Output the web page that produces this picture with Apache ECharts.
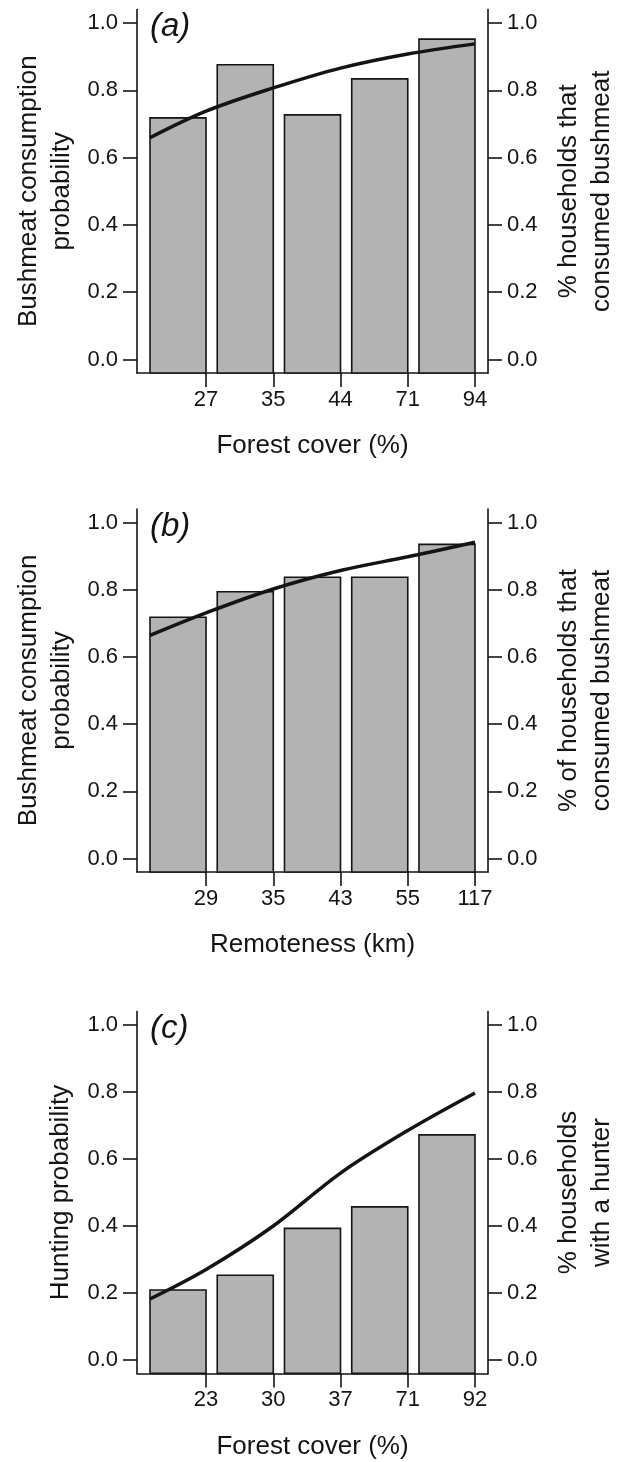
<!DOCTYPE html>
<html><head><meta charset="utf-8">
<script src="https://cdn.jsdelivr.net/npm/echarts@6/dist/echarts.min.js"></script>
<style>html,body{margin:0;padding:0;background:#fff}#c{width:617px;height:1462px}</style>
</head><body><div id="c"></div>
<script>
// ---------- data ----------
const tickLabelsA = ['27', '35', '44', '71', '94'];
const barsA = [0.718, 0.876, 0.727, 0.834, 0.952];
const curveA = [0.659, 0.738, 0.807, 0.866, 0.908, 0.938];

const tickLabelsB = ['29', '35', '43', '55', '117'];
const barsB = [0.718, 0.794, 0.837, 0.837, 0.935];
const curveB = [0.664, 0.731, 0.802, 0.857, 0.898, 0.941];

const tickLabelsC = ['23', '30', '37', '71', '92'];
const barsC = [0.209, 0.253, 0.393, 0.457, 0.672];
const curveC = [0.182, 0.270, 0.400, 0.558, 0.685, 0.797];

// curve sample positions, in bar units (first bar's left edge, then each bar's right edge)
const curveX = [0.2, 1.2, 2.4, 3.6, 4.8, 6.0];
const yTicks = [0, 0.2, 0.4, 0.6, 0.8, 1.0];

const xTitles = ['Forest cover (%)', 'Remoteness (km)', 'Forest cover (%)'];
const leftTitles = [['Bushmeat consumption', 'probability'], ['Bushmeat consumption', 'probability'], ['Hunting probability']];
const rightTitles = [['% households that', 'consumed bushmeat'], ['% of households that', 'consumed bushmeat'], ['% households', 'with a hunter']];
const panelTags = ['(a)', '(b)', '(c)'];

// ---------- layout ----------
const FONT = "'Liberation Sans', Arial, Helvetica, sans-serif";
const INK = '#141414';
const panelsLayout = [{ y1: 23, y0: 359.5 }, { y1: 522.5, y0: 858.5 }, { y1: 1025, y0: 1360 }];
const LEFT = 137, PLOT_W = 351;
const YMIN = -0.04, YMAX = 1.04;
const XMIN = -0.032, XMAX = 6.232;
const BAR_W = 1, BAR_STEP = 1.2;

const sets = [
  { labels: tickLabelsA, bars: barsA, curve: curveA },
  { labels: tickLabelsB, bars: barsB, curve: curveB },
  { labels: tickLabelsC, bars: barsC, curve: curveC }
];

const grid = [], xAxis = [], yAxis = [], series = [], graphic = [];

sets.forEach((s, k) => {
  const L = panelsLayout[k];
  const S = L.y0 - L.y1;
  const top = L.y1 - 0.04 * S;
  const H = 1.08 * S;
  grid.push({ left: LEFT, width: PLOT_W, top: top, height: H, containLabel: false });

  const tickPos = s.labels.map((_, i) => BAR_STEP * (i + 1));
  xAxis.push({
    gridIndex: k, type: 'value', min: XMIN, max: XMAX,
    axisLine: { show: true, onZero: false, lineStyle: { color: INK, width: 1.6 } },
    axisTick: { show: true, length: 14, customValues: tickPos, lineStyle: { color: INK, width: 1.6 } },
    axisLabel: {
      customValues: tickPos, margin: 16, fontSize: 22, color: INK, fontFamily: FONT,
      formatter: v => s.labels[Math.round(v / BAR_STEP) - 1]
    },
    splitLine: { show: false },
    name: xTitles[k], nameLocation: 'middle', nameGap: 60,
    nameTextStyle: { fontSize: 26, color: INK, fontFamily: FONT }
  });

  ['left', 'right'].forEach(pos => {
    yAxis.push({
      gridIndex: k, type: 'value', position: pos, min: YMIN, max: YMAX,
      axisLine: { show: true, onZero: false, lineStyle: { color: INK, width: 1.6 } },
      axisTick: { show: true, length: 14, customValues: yTicks, lineStyle: { color: INK, width: 1.6 } },
      axisLabel: {
        customValues: yTicks, margin: 19, fontSize: 22, color: INK, fontFamily: FONT,
        formatter: v => v.toFixed(1)
      },
      splitLine: { show: false }
    });
  });

  series.push({
    type: 'custom', xAxisIndex: k, yAxisIndex: 2 * k,
    data: s.bars.map((v, i) => [0.2 + BAR_STEP * i + BAR_W / 2, v]),
    renderItem: (params, api) => {
      const c = api.value(0), v = api.value(1);
      const p1 = api.coord([c - BAR_W / 2, v]);
      const p2 = api.coord([c + BAR_W / 2, YMIN]);
      return {
        type: 'rect',
        shape: { x: p1[0], y: p1[1], width: p2[0] - p1[0], height: p2[1] - p1[1] },
        style: { fill: '#b3b3b3', stroke: INK, lineWidth: 1.6 }
      };
    },
    z: 2
  });

  series.push({
    type: 'line', xAxisIndex: k, yAxisIndex: 2 * k,
    data: curveX.map((x, i) => [x, s.curve[i]]),
    smooth: 0.35, symbol: 'none',
    lineStyle: { color: INK, width: 3.5 },
    z: 3
  });

  const midY = top + H / 2;
  graphic.push({
    type: 'text', x: 150, y: L.y1 + 4,
    style: { text: panelTags[k], font: 'italic 33px ' + FONT, fill: INK, textAlign: 'left', textVerticalAlign: 'middle' }
  });
  const lt = leftTitles[k];
  const leftXs = lt.length === 2 ? [29, 62] : [61];
  lt.forEach((t, i) => graphic.push({
    type: 'text', x: leftXs[i], y: midY, rotation: Math.PI / 2,
    style: { text: t, font: '26px ' + FONT, fill: INK, textAlign: 'center', textVerticalAlign: 'middle' }
  }));
  const rt = rightTitles[k];
  const rightXs = [569, 602];
  rt.forEach((t, i) => graphic.push({
    type: 'text', x: rightXs[i], y: midY, rotation: Math.PI / 2,
    style: { text: t, font: '26px ' + FONT, fill: INK, textAlign: 'center', textVerticalAlign: 'middle' }
  }));
});

const chart = echarts.init(document.getElementById('c'), null, { renderer: 'canvas' });
chart.setOption({
  animation: false,
  backgroundColor: '#ffffff',
  grid, xAxis, yAxis, series, graphic
});
</script>
</body></html>
